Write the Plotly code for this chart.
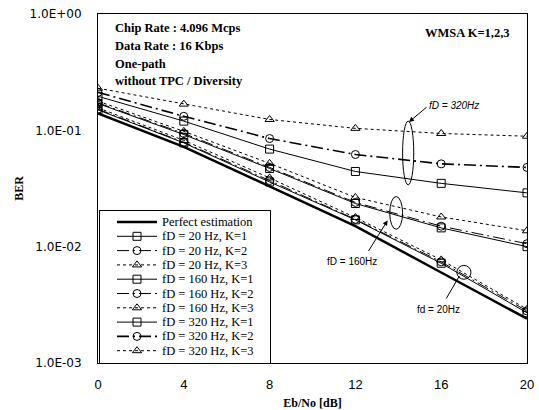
import math
import plotly.graph_objects as go

ebno = [0, 4, 8, 12, 16, 20]

ber_perfect = [0.140, 0.072, 0.033, 0.0150, 0.0060, 0.0024]
ber_20_k1 = [0.150, 0.078, 0.036, 0.0170, 0.0072, 0.0027]
ber_20_k2 = [0.152, 0.079, 0.037, 0.0172, 0.0074, 0.0028]
ber_20_k3 = [0.156, 0.082, 0.039, 0.0178, 0.0077, 0.0029]
ber_160_k1 = [0.170, 0.092, 0.047, 0.0235, 0.0145, 0.0100]
ber_160_k2 = [0.172, 0.094, 0.048, 0.0240, 0.0150, 0.0106]
ber_160_k3 = [0.178, 0.098, 0.052, 0.0265, 0.0180, 0.0137]
ber_320_k1 = [0.196, 0.120, 0.069, 0.0443, 0.0350, 0.0290]
ber_320_k2 = [0.212, 0.132, 0.085, 0.0620, 0.0515, 0.0480]
ber_320_k3 = [0.230, 0.168, 0.124, 0.1040, 0.0940, 0.0890]

y_tickvals = [1, 0.1, 0.01, 0.001]
y_ticktext = ["1.0E+00", "1.0E-01", "1.0E-02", "1.0E-03"]
x_tickvals = [0, 4, 8, 12, 16, 20]

DASHDOT = "12px,4px,2px,4px"
series = [
    ("Perfect estimation", ber_perfect, "solid", None, 2.5),
    ("fD = 20 Hz, K=1", ber_20_k1, "solid", "square-open", 1),
    ("fD = 20 Hz, K=2", ber_20_k2, DASHDOT, "circle-open", 1),
    ("fD = 20 Hz, K=3", ber_20_k3, "dot", "triangle-up-open", 1),
    ("fD = 160 Hz, K=1", ber_160_k1, "solid", "square-open", 1),
    ("fD = 160 Hz, K=2", ber_160_k2, DASHDOT, "circle-open", 1),
    ("fD = 160 Hz, K=3", ber_160_k3, "dot", "triangle-up-open", 1),
    ("fD = 320 Hz, K=1", ber_320_k1, "solid", "square-open", 1),
    ("fD = 320 Hz, K=2", ber_320_k2, DASHDOT, "circle-open", 1.6),
    ("fD = 320 Hz, K=3", ber_320_k3, "dot", "triangle-up-open", 1),
]

W, H = 539, 410
ML, MR, MT, MB = 98, 12, 14, 47
PW, PH = W - ML - MR, H - MT - MB

fig = go.Figure()
for name, vals, dash, sym, w in series:
    if sym is None:
        fig.add_trace(go.Scatter(x=ebno, y=vals, name=name, mode="lines", showlegend=False,
                                 line=dict(color="black", width=w, dash=dash)))
    else:
        fig.add_trace(go.Scatter(x=ebno, y=vals, name=name, mode="lines+markers", showlegend=False,
                                 line=dict(color="black", width=w, dash=dash),
                                 marker=dict(symbol=sym, size=8, color="black",
                                             line=dict(color="black", width=1))))

serif = "Liberation Serif"
sans = "Liberation Sans"

# ---- manual legend (overlay axes in pixel units of the legend box) ----
LX0, LX1, LY0, LY1 = 100, 270, 211, 363  # legend box in page px
lw, lh = LX1 - LX0, LY1 - LY0
row_h = 14.3
for i, (name, vals, dash, sym, w) in enumerate(series):
    yc = lh - (11 + row_h * i)
    fig.add_trace(go.Scatter(x=[17, 57], y=[yc, yc], mode="lines", xaxis="x2", yaxis="y2",
                             showlegend=False, hoverinfo="skip",
                             line=dict(color="black", width=w, dash=dash)))
    if sym is not None:
        fig.add_trace(go.Scatter(x=[37], y=[yc], mode="markers", xaxis="x2", yaxis="y2",
                                 showlegend=False, hoverinfo="skip",
                                 marker=dict(symbol=sym, size=8, color="black",
                                             line=dict(color="black", width=1))))
    fig.add_annotation(xref="x2", yref="y2", x=60, y=yc, text=name, showarrow=False,
                       xanchor="left", yanchor="middle",
                       font=dict(family=serif, size=12.5, color="black"))

fig.add_shape(type="rect", xref="paper", yref="paper",
              x0=(LX0 - ML) / PW, x1=(LX1 - ML) / PW,
              y0=(H - MB - LY1) / PH, y1=(H - MB - LY0) / PH,
              line=dict(color="black", width=2), fillcolor="white", layer="below")

fig.update_layout(
    width=W, height=H,
    margin=dict(l=ML, r=MR, t=MT, b=MB, autoexpand=False),
    paper_bgcolor="white", plot_bgcolor="white",
    showlegend=False,
    xaxis=dict(range=[0, 20], tickvals=x_tickvals, showgrid=False, zeroline=False,
               showline=True, linecolor="black", linewidth=1, mirror=True, ticks="",
               tickfont=dict(family=sans, size=13, color="black"),
               ticklabelstandoff=9, automargin=False,
               title=dict(text="<b>Eb/No [dB]</b>", font=dict(family=serif, size=12, color="black"),
                          standoff=8)),
    yaxis=dict(type="log", range=[-3, 0], tickvals=y_tickvals, ticktext=y_ticktext,
               showgrid=False, zeroline=False, showline=True, linecolor="black",
               linewidth=1, mirror=True, ticks="", automargin=False,
               tickfont=dict(family="DejaVu Sans", size=12, color="black"),
               ticklabelstandoff=13,
               title=dict(text="<b>BER</b>", font=dict(family=serif, size=12, color="black"),
                          standoff=3)),
    xaxis2=dict(domain=[(LX0 - ML) / PW, (LX1 - ML) / PW], range=[0, lw], anchor="y2",
                visible=False, fixedrange=True),
    yaxis2=dict(domain=[(H - MB - LY1) / PH, (H - MB - LY0) / PH], range=[0, lh], anchor="x2",
                visible=False, fixedrange=True),
)

info_lines = ["Chip Rate : 4.096 Mcps", "Data Rate : 16 Kbps", "One-path",
              "without TPC / Diversity"]
for i, t in enumerate(info_lines):
    fig.add_annotation(xref="paper", yref="paper", x=0.035, y=1 - (13.5 + 18 * i) / PH,
                       text="<b>" + t + "</b>", showarrow=False, xanchor="left",
                       yanchor="middle", font=dict(family=serif, size=12.5, color="black"))

fig.add_annotation(xref="paper", yref="paper", x=0.965, y=1 - 18.5 / PH, text="<b>WMSA K=1,2,3</b>",
                   showarrow=False, xanchor="right", yanchor="middle",
                   font=dict(family=serif, size=12.5, color="black"))


def py(v):
    return 1 + math.log10(v) / 3.0


def px(v):
    return v / 20.0


# ellipses marking the curve groups (x in dB, y as BER)
ellipses = [
    (14.2, 14.72, 0.034, 0.120),    # fD = 320 Hz
    (13.6, 14.2, 0.0141, 0.0270),   # fD = 160 Hz
    (16.73, 17.39, 0.00525, 0.0069),  # fd = 20 Hz
]
for x0, x1, y0, y1 in ellipses:
    fig.add_shape(type="circle", xref="paper", yref="paper", x0=px(x0), x1=px(x1),
                  y0=py(y0), y1=py(y1), line=dict(color="black", width=1), layer="above")

lab_font = dict(family=sans, size=10, color="black")
# fD = 320Hz
fig.add_annotation(x=14.5, y=math.log10(0.118), xref="x", yref="y", ax=19, ay=-16, text="",
                   showarrow=True, arrowhead=2, arrowsize=1, arrowwidth=1, arrowcolor="black")
fig.add_annotation(x=15.35, y=math.log10(0.165), xref="x", yref="y", text="<i>fD = 320Hz</i>",
                   showarrow=False, xanchor="left", font=lab_font)
# fD = 160Hz
fig.add_annotation(x=13.5, y=math.log10(0.0168), xref="x", yref="y", ax=-20, ay=32, text="",
                   showarrow=True, arrowhead=2, arrowsize=1, arrowwidth=1, arrowcolor="black")
fig.add_annotation(x=10.6, y=math.log10(0.0074), xref="x", yref="y", text="fD = 160Hz",
                   showarrow=False, xanchor="left", font=lab_font)
# fd = 20Hz
fig.add_annotation(x=16.85, y=math.log10(0.0056), xref="x", yref="y", ax=-14, ay=24, text="",
                   showarrow=True, arrowhead=0, arrowwidth=1, arrowcolor="black")
fig.add_annotation(x=14.8, y=math.log10(0.0029), xref="x", yref="y", text="fd = 20Hz",
                   showarrow=False, xanchor="left", font=lab_font)

fig.write_html("out.html", config={"displayModeBar": False},
               post_script="document.body.style.margin='0px';")
